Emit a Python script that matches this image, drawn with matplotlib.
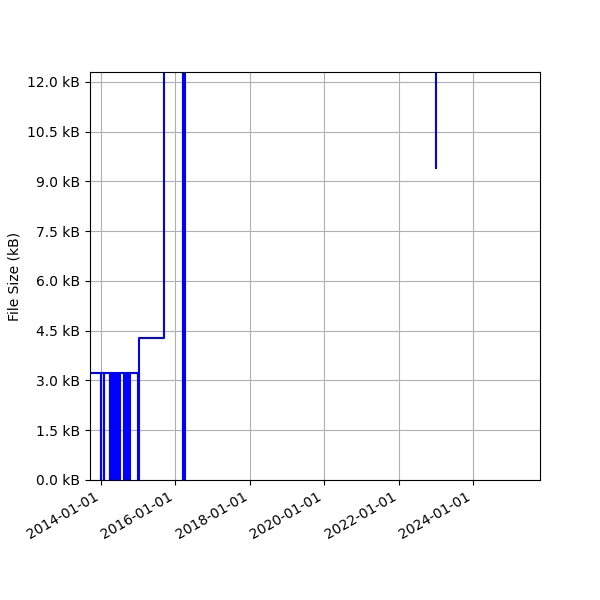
import datetime as dt
import matplotlib
matplotlib.use("Agg")
import matplotlib.pyplot as plt
import matplotlib.dates as mdates
from matplotlib.ticker import MultipleLocator, FuncFormatter

# commit dates and file sizes (kB)
dates = [
    "2013-09-01", "2013-12-30", "2014-01-02", "2014-01-28", "2014-02-01",
    "2014-03-27", "2014-04-02", "2014-04-08", "2014-04-14", "2014-04-20",
    "2014-04-26", "2014-05-02", "2014-05-08", "2014-05-14", "2014-05-20",
    "2014-05-26", "2014-06-01", "2014-06-07", "2014-06-13", "2014-06-19",
    "2014-06-25", "2014-07-01", "2014-07-04",
    "2014-08-15", "2014-08-21", "2014-08-27", "2014-09-02", "2014-09-08",
    "2014-09-14", "2014-09-20", "2014-09-26", "2014-10-02", "2014-10-08",
    "2014-12-27", "2015-01-12",
    "2015-09-07", "2015-09-11",
    "2016-03-15", "2016-03-20", "2016-03-28", "2016-04-05",
    "2023-01-01",
]
sizes_kb = [
    3.235, 0.0, 3.235, 0.0, 3.235,
    0.0, 3.235, 0.0, 3.235, 0.0,
    3.235, 0.0, 3.235, 0.0, 3.235,
    0.0, 3.235, 0.0, 3.235, 0.0,
    3.235, 0.0, 3.235,
    0.0, 3.235, 0.0, 3.235, 0.0,
    3.235, 0.0, 3.235, 0.0, 3.235,
    0.0, 4.27,
    6.45, 25.0,
    0.0, 25.0, 0.0, 25.0,
    9.42,
]

x = [dt.datetime.strptime(d, "%Y-%m-%d") for d in dates]

fig, ax = plt.subplots(figsize=(6, 6), dpi=100)
ax.plot(x, sizes_kb, drawstyle="steps-post", color="blue", linewidth=1.5)

ax.set_xlim(dt.datetime(2013, 9, 15), dt.datetime(2025, 10, 21))
ax.set_ylim(0, 12.3)
ax.yaxis.set_major_locator(MultipleLocator(1.5))
ax.yaxis.set_major_formatter(FuncFormatter(lambda v, p: f"{v:.1f} kB"))
ax.xaxis.set_major_locator(mdates.YearLocator(2))
ax.xaxis.set_major_formatter(mdates.DateFormatter("%Y-%m-%d"))
ax.set_ylabel("File Size (kB)")
ax.grid(True)

fig.autofmt_xdate()
fig.subplots_adjust(left=0.15, right=0.9, top=0.88, bottom=0.2)
fig.savefig("out.png")
